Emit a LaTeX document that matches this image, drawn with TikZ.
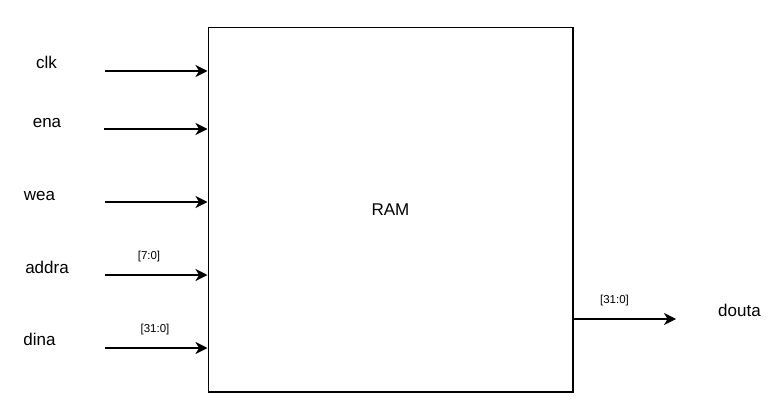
\documentclass[tikz,border=0pt]{standalone}
\usepackage{fontspec}
\setmainfont{Liberation Sans}
\usetikzlibrary{arrows.meta}
\begin{document}
\begin{tikzpicture}[x=1pt,y=-1pt,
  sig/.style={line width=1.5pt,-{Stealth[length=12pt,width=12pt,inset=3.5pt]}},
  lbl/.style={font=\fontsize{17}{19}\selectfont,anchor=base,inner sep=0pt},
  bus/.style={font=\fontsize{11.5}{13}\selectfont,anchor=base,inner sep=0pt}]
\useasboundingbox (0,0) rectangle (778,417);
\node[draw,line width=1.5pt,minimum width=364.5pt,minimum height=364pt,inner sep=0pt,anchor=north west] (ram) at (207.5,27) {};
\node[font=\fontsize{17}{19}\selectfont] (ramt) at (ram.center) {RAM};
% inputs
\coordinate (c1) at (105,71);  \coordinate (e1) at (207.5,71);
\coordinate (c2) at (104,129); \coordinate (e2) at (207.5,129);
\coordinate (c3) at (105,202); \coordinate (e3) at (207.5,202);
\coordinate (c4) at (105,275); \coordinate (e4) at (207.5,275);
\coordinate (c5) at (105,348); \coordinate (e5) at (207.5,348);
\draw[sig] (c1) -- (e1);
\draw[sig] (c2) -- (e2);
\draw[sig] (c3) -- (e3);
\draw[sig] (c4) -- (e4);
\draw[sig] (c5) -- (e5);
\node[lbl] (lclk) at (46.5,69) {clk};
\node[lbl] (lena) at (47,127) {ena};
\node[lbl] (lwea) at (39.5,200) {wea};
\node[lbl] (laddra) at (47,273.3) {addra};
\node[lbl] (ldina) at (39.5,345.7) {dina};
\node[bus] (b1) at (149,259) {[7:0]};
\node[bus] (b2) at (155,332.5) {[31:0]};
% output
\coordinate (o1) at (572,319);
\coordinate (o2) at (676,319);
\draw[sig] (o1) -- (o2);
\node[bus] (b3) at (614.5,303) {[31:0]};
\node[lbl] (ldouta) at (739.5,316.7) {douta};
\end{tikzpicture}
\end{document}
